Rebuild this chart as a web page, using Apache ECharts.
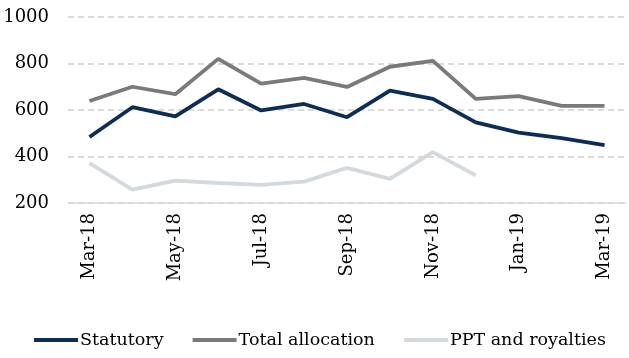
<!DOCTYPE html>
<html><head><meta charset="utf-8">
<script src="https://cdn.jsdelivr.net/npm/echarts@6/dist/echarts.min.js"></script>
<style>html,body{margin:0;padding:0;background:#fff}#c{width:629px;height:358px}</style>
</head><body><div id="c"></div>
<script>
const categories = ['Mar-18','Apr-18','May-18','Jun-18','Jul-18','Aug-18','Sep-18','Oct-18','Nov-18','Dec-18','Jan-19','Feb-19','Mar-19'];
const statutory = [484, 612, 573, 689, 598, 626, 569, 683, 648, 547, 503, 479, 449];
const totalAllocation = [639, 700, 668, 820, 713, 738, 699, 786, 811, 648, 660, 618, 618];
const pptRoyalties = [371, 258, 296, 286, 278, 292, 351, 304, 419, 319, null, null, null];
const yTicks = {min: 200, max: 1000, interval: 200};

const font = 'DejaVu Serif';
const chart = echarts.init(document.getElementById('c'), null, {renderer: 'canvas'});
const mk = (name, data, color) => ({
  name, type: 'line', data, symbol: 'none', connectNulls: false,
  lineStyle: {color, width: 3.8}, itemStyle: {color}
});
chart.setOption({
  animation: false,
  grid: {left: 68, right: 3, top: 17, bottom: 155},
  legend: {
    bottom: 4, left: 29, itemWidth: 44, itemHeight: 4, itemGap: 29, icon: 'rect',
    textStyle: {fontFamily: font, fontSize: 17.5, color: '#000', padding: [0, 0, 0, -3]},
    data: ['Statutory', 'Total allocation', 'PPT and royalties']
  },
  xAxis: {
    type: 'category', data: categories, boundaryGap: true,
    axisLine: {lineStyle: {color: '#d9d9d9', width: 1.5}},
    axisTick: {interval: 1, length: 6, lineStyle: {color: '#d9d9d9', width: 1.5}},
    axisLabel: {interval: 1, rotate: 90, margin: 10, fontFamily: font, fontSize: 18, color: '#000'}
  },
  yAxis: {
    type: 'value', min: yTicks.min, max: yTicks.max, interval: yTicks.interval,
    axisLine: {show: false}, axisTick: {show: false},
    axisLabel: {margin: 19, fontFamily: font, fontSize: 18, color: '#000', formatter: v => String(v)},
    splitLine: {lineStyle: {color: '#d0d0d0', type: [6, 4], width: 1.5}}
  },
  series: [
    mk('Statutory', statutory, '#0c2d55'),
    mk('Total allocation', totalAllocation, '#7a7a7a'),
    mk('PPT and royalties', pptRoyalties, '#d4d9de')
  ]
});
</script></body></html>
